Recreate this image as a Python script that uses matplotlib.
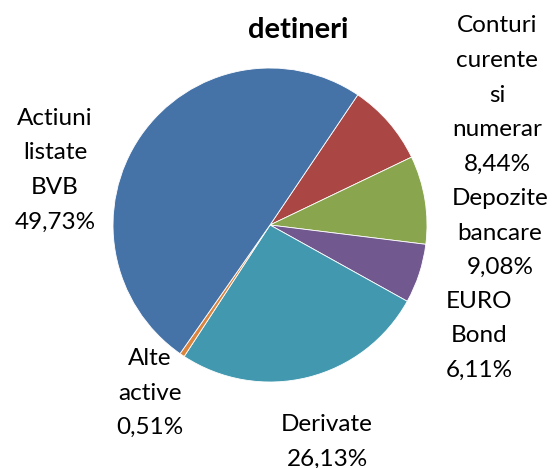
import matplotlib
matplotlib.use("Agg")
import matplotlib.pyplot as plt

categories = ["Conturi\ncurente\nsi\nnumerar", "Depozite\nbancare", "EURO\nBond",
              "Derivate", "Alte\nactive", "Actiuni\nlistate\nBVB"]
values = [8.44, 9.08, 6.11, 26.13, 0.51, 49.73]
value_labels = ["8,44%", "9,08%", "6,11%", "26,13%", "0,51%", "49,73%"]
colors = ["#AA4643", "#89A54E", "#71588F", "#4198AF", "#DB843D", "#4572A7"]
title = "detineri"

W, H = 555, 468
fig = plt.figure(figsize=(W / 100, H / 100), dpi=100)
cx, cy, r = 270, 225, 157
ax = fig.add_axes([(cx - r) / W, (H - cy - r) / H, 2 * r / W, 2 * r / H])
ax.pie(values, colors=colors, startangle=56, counterclock=False, radius=1,
       wedgeprops=dict(linewidth=0.6, edgecolor="white"))
ax.set_xlim(-1, 1)
ax.set_ylim(-1, 1)
ax.set_aspect("equal")
ax.axis("off")

font = "Lato"
fs = 17.5
# label centres in pixels (x, y of text block centre)
label_pos = [(497, 95), (500, 233), (479, 336), (327, 442), (150, 393), (55, 170)]
for cat, vl, (px, py) in zip(categories, value_labels, label_pos):
    fig.text(px / W, 1 - py / H, cat + "\n" + vl, ha="center", va="center",
             fontsize=fs, family=font, linespacing=1.8, multialignment="center")

fig.text(298 / W, 1 - 30 / H, title, ha="center", va="center", fontsize=21,
         family=font, fontweight="bold")

fig.savefig("out.png", dpi=100)
